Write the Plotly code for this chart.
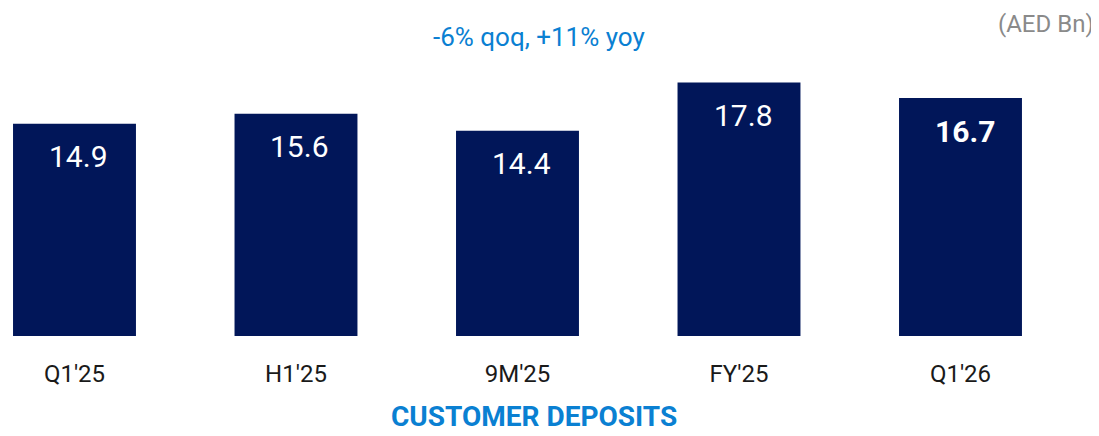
import plotly.graph_objects as go

categories = ["Q1'25", "H1'25", "9M'25", "FY'25", "Q1'26"]
values = [14.9, 15.6, 14.4, 17.8, 16.7]
bold_flags = [False, False, False, False, True]
subtitle = "-6% qoq, +11% yoy"
unit_label = "(AED Bn)"
chart_title = "CUSTOMER DEPOSITS"

NAVY = "#011659"
BLUE = "#0a80d2"
FONT = "Roboto"

fig = go.Figure()
fig.add_trace(go.Bar(
    x=list(range(len(categories))), y=values,
    marker=dict(color=NAVY, line=dict(width=0)),
    width=0.555, hoverinfo="skip",
))

for i, (v, b) in enumerate(zip(values, bold_flags)):
    txt = f"<b>{v:.1f}</b>" if b else f"{v:.1f}"
    fig.add_annotation(x=i, y=v, text=txt, showarrow=False, xref="x", yref="y",
                       yanchor="middle", xanchor="center", yshift=-33, xshift=4,
                       font=dict(family=FONT, size=30, color="white"))

fig.add_annotation(x=0.4867, y=1.0, xref="paper", yref="paper", text=subtitle, showarrow=False,
                   yanchor="top", yshift=-12,
                   font=dict(family=FONT, size=26, color=BLUE))
fig.add_annotation(x=1, y=1, xref="paper", yref="paper", text=unit_label, showarrow=False,
                   xanchor="right", yanchor="top", xshift=-3, yshift=0,
                   font=dict(family=FONT, size=24, color="#8a8a8a"))

fig.add_annotation(x=0.4821, y=0, xref="paper", yref="paper", text=f"<b>{chart_title}</b>",
                   showarrow=False, yanchor="middle", yshift=-80,
                   font=dict(family=FONT, size=28, color=BLUE))

fig.update_layout(
    width=1091, height=428,
    margin=dict(l=0, r=0, t=0, b=100),
    paper_bgcolor="white", plot_bgcolor="white",
    showlegend=False,
    xaxis=dict(range=[-0.3002, 4.6253], tickmode="array", tickvals=list(range(len(categories))),
               ticktext=categories, showgrid=False, zeroline=False, showline=False,
               ticks="", tickfont=dict(family=FONT, size=24, color="#1a1a1a"),
               ticklabelstandoff=21, fixedrange=True),
    yaxis=dict(range=[0, 23.02], visible=False, fixedrange=True),
)

fig.write_html("out.html")
